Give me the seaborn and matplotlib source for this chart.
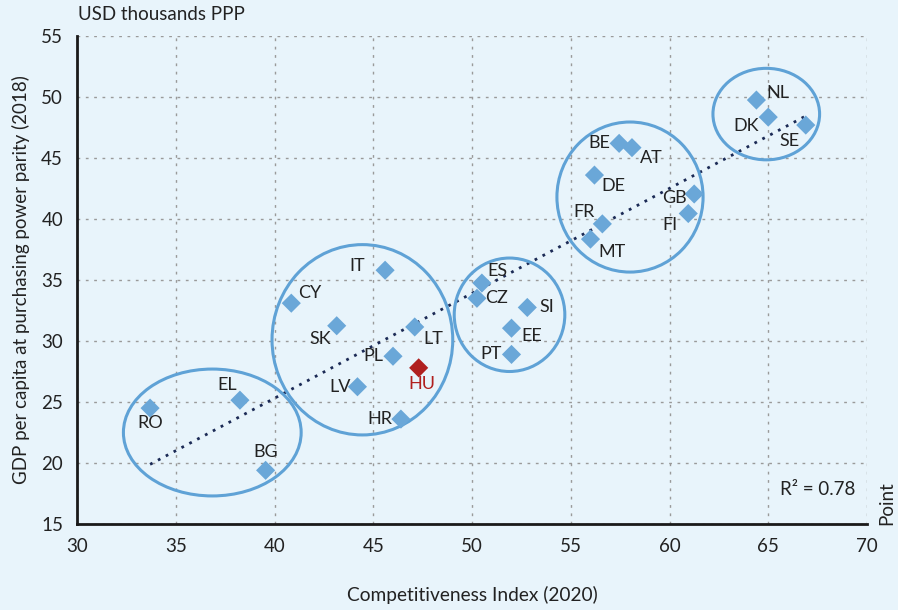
import numpy as np
import pandas as pd
import matplotlib
matplotlib.use("Agg")
import matplotlib.pyplot as plt
import seaborn as sns
from matplotlib.patches import Ellipse

# Data
countries = ["RO", "EL", "BG", "CY", "SK", "IT", "LT", "PL", "HU", "LV", "HR",
             "ES", "CZ", "SI", "EE", "PT", "BE", "AT", "DE", "FR", "MT", "GB",
             "FI", "NL", "DK", "SE"]
comp_index = [33.7, 38.25, 39.55, 40.85, 43.15, 45.6, 47.1, 46.0, 47.3, 44.2, 46.4,
              50.5, 50.25, 52.8, 52.0, 52.0, 57.45, 58.1, 56.2, 56.6, 56.0, 61.25,
              60.95, 64.4, 65.0, 66.9]
gdp_ppp = [24.5, 25.15, 19.4, 33.1, 31.25, 35.8, 31.15, 28.75, 27.8, 26.25, 23.6,
           34.75, 33.5, 32.75, 31.05, 28.9, 46.2, 45.85, 43.6, 39.6, 38.35, 42.05,
           40.45, 49.75, 48.35, 47.7]

# Cluster ellipses: centre x, centre y, width, height
ell_x = [36.85, 44.45, 51.9, 58.0, 64.9]
ell_y = [22.5, 30.1, 32.15, 41.8, 48.6]
ell_w = [9.0, 9.15, 5.6, 7.4, 5.4]
ell_h = [10.4, 15.6, 9.3, 12.3, 7.5]

# label offsets in pixels (dx, dy)
offsets = {"RO": (0, -15), "EL": (-13, 15), "BG": (0, 18), "CY": (18, 10),
           "SK": (-16, -13), "IT": (-28, 4), "LT": (19, -12), "PL": (-20, 0),
           "HU": (3, -16), "LV": (-17, 0), "HR": (-21, 0), "ES": (16, 12),
           "CZ": (20, 0), "SI": (19, 0), "EE": (20, -8), "PT": (-20, 0),
           "BE": (-20, 0), "AT": (19, -10), "DE": (19, -11), "FR": (-18, 12),
           "MT": (21, -13), "GB": (-20, -4), "FI": (-18, -11), "NL": (21, 7),
           "DK": (-22, -9), "SE": (-16, -16)}

df = pd.DataFrame({"country": countries, "x": comp_index, "y": gdp_ppp})
df["grp"] = np.where(df["country"] == "HU", "HU", "other")

bg = "#e8f4fb"
blue = "#6aa7d8"
red = "#b0201f"
txt = "#222222"

sns.set_style("white")
plt.rcParams["font.family"] = ["Lato", "DejaVu Sans"]

fig = plt.figure(figsize=(8.98, 6.10), dpi=100, facecolor=bg)
ax = fig.add_axes([77 / 898, 1 - 524 / 610, 790 / 898, 488 / 610])
ax.set_facecolor(bg)

ax.set_xlim(30, 70)
ax.set_ylim(15, 55)
ax.set_xticks(range(30, 71, 5))
ax.set_yticks(range(15, 56, 5))
ax.grid(True, color="#9a9a9a", linestyle=(0, (2, 4)), linewidth=1)
ax.set_axisbelow(True)

# trend line
k, b = np.polyfit(df["x"], df["y"], 1)
xs = np.array([df["x"].min(), df["x"].max()])
ax.plot(xs, k * xs + b, color="#1b2a55", linestyle=(0, (1, 2.2)), linewidth=2, zorder=2)

for cx, cy, w, h in zip(ell_x, ell_y, ell_w, ell_h):
    ax.add_patch(Ellipse((cx, cy), w, h, fill=False, edgecolor="#5fa2d6", linewidth=2.2, zorder=2))

sns.scatterplot(data=df, x="x", y="y", hue="grp", palette={"HU": red, "other": blue},
                marker="D", s=95, edgecolor="none", legend=False, ax=ax, zorder=3)

for c, x, y in zip(countries, comp_index, gdp_ppp):
    dx, dy = offsets[c]
    ax.annotate(c, (x, y), xytext=(dx, dy), textcoords="offset pixels",
                ha="center", va="center", fontsize=13,
                color=red if c == "HU" else txt, zorder=4)

for side in ["top", "right"]:
    ax.spines[side].set_visible(False)
for side in ["left", "bottom"]:
    ax.spines[side].set_color("#1a1a1a")
    ax.spines[side].set_linewidth(2)
ax.tick_params(axis="both", direction="out", length=6, width=2, color="#1a1a1a",
               labelsize=13.5, labelcolor=txt, pad=4)

ax.set_xlabel("Competitiveness Index (2020)", fontsize=13.8, color=txt, labelpad=22)
ax.set_ylabel("GDP per capita at purchasing power parity (2018)", fontsize=13.5,
              color=txt, labelpad=8)

fig.text(78 / 898, 1 - 15 / 610, "USD thousands PPP", fontsize=13.5, color=txt,
         ha="left", va="center")
ax.text(0.985, 0.07, "R² = 0.78", transform=ax.transAxes, fontsize=13.5,
        color=txt, ha="right", va="center")
fig.text(887 / 898, 1 - 503 / 610, "Point", rotation=90, fontsize=13.5, color=txt,
         ha="center", va="center")

fig.savefig("out.png", dpi=100, facecolor=bg)
